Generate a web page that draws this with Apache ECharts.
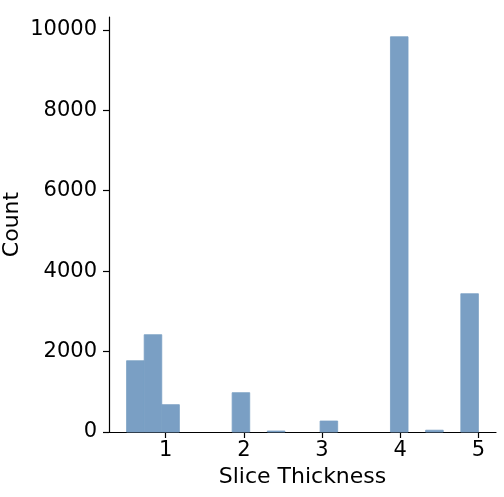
<!DOCTYPE html>
<html>
<head>
<meta charset="utf-8">
<script src="https://cdn.jsdelivr.net/npm/echarts@6/dist/echarts.min.js"></script>
<style>html,body{margin:0;padding:0;background:#fff;}#chart{width:504px;height:497px;}</style>
</head>
<body>
<div id="chart"></div>
<script>
// Histogram bins of "Slice Thickness"
const binEdges = [0.5, 0.725, 0.95, 1.175, 1.4, 1.625, 1.85, 2.075, 2.3, 2.525, 2.75,
                  2.975, 3.2, 3.425, 3.65, 3.875, 4.1, 4.325, 4.55, 4.775, 5.0];
const counts = [1772, 2419, 679, 0, 0, 0, 977, 0, 25, 0,
                0, 273, 0, 0, 0, 9826, 0, 45, 0, 3438];
const xTicks = [1, 2, 3, 4, 5];
const yTicks = [0, 2000, 4000, 6000, 8000, 10000];
const xLabel = 'Slice Thickness';
const yLabel = 'Count';

const data = counts.map((c, i) => [binEdges[i], binEdges[i + 1], c]);
const font = 'DejaVu Sans';
const chart = echarts.init(document.getElementById('chart'), null, {renderer: 'canvas'});
chart.setOption({
  animation: false,
  grid: {left: 109, right: 8, top: 17, bottom: 65, containLabel: false, outerBoundsMode: 'none'},
  xAxis: {
    type: 'value', min: 0.275, max: 5.225,
    name: xLabel, nameLocation: 'middle', nameGap: 34, nameMoveOverlap: false,
    nameTextStyle: {fontFamily: font, fontSize: 22, color: '#000'},
    axisLine: {show: true, onZero: false, lineStyle: {color: '#000', width: 1.2}},
    axisTick: {show: true, length: 6, lineStyle: {color: '#000', width: 1.2}, customValues: xTicks},
    axisLabel: {fontFamily: font, fontSize: 21, color: '#000', margin: 8, customValues: xTicks,
                formatter: v => String(v)},
    splitLine: {show: false}
  },
  yAxis: {
    type: 'value', min: 0, max: 10317,
    name: yLabel, nameLocation: 'middle', nameGap: 86, nameRotate: 90, nameMoveOverlap: false,
    nameTextStyle: {fontFamily: font, fontSize: 22, color: '#000'},
    axisLine: {show: true, lineStyle: {color: '#000', width: 1.2}},
    axisTick: {show: true, length: 6, lineStyle: {color: '#000', width: 1.2}, customValues: yTicks},
    axisLabel: {fontFamily: font, fontSize: 21, color: '#000', margin: 12, customValues: yTicks,
                formatter: v => String(v)},
    splitLine: {show: false}
  },
  series: [{
    type: 'custom',
    data: data,
    encode: {x: [0, 1], y: 2},
    renderItem: function (params, api) {
      const p0 = api.coord([api.value(0), 0]);
      const p1 = api.coord([api.value(1), api.value(2)]);
      return {
        type: 'rect',
        shape: {x: p0[0], y: p1[1], width: p1[0] - p0[0], height: p0[1] - p1[1]},
        style: {fill: '#7a9fc4', stroke: api.value(2) > 0 ? '#7a9fc4' : null, lineWidth: 0.8}
      };
    }
  }]
});
</script>
</body>
</html>
